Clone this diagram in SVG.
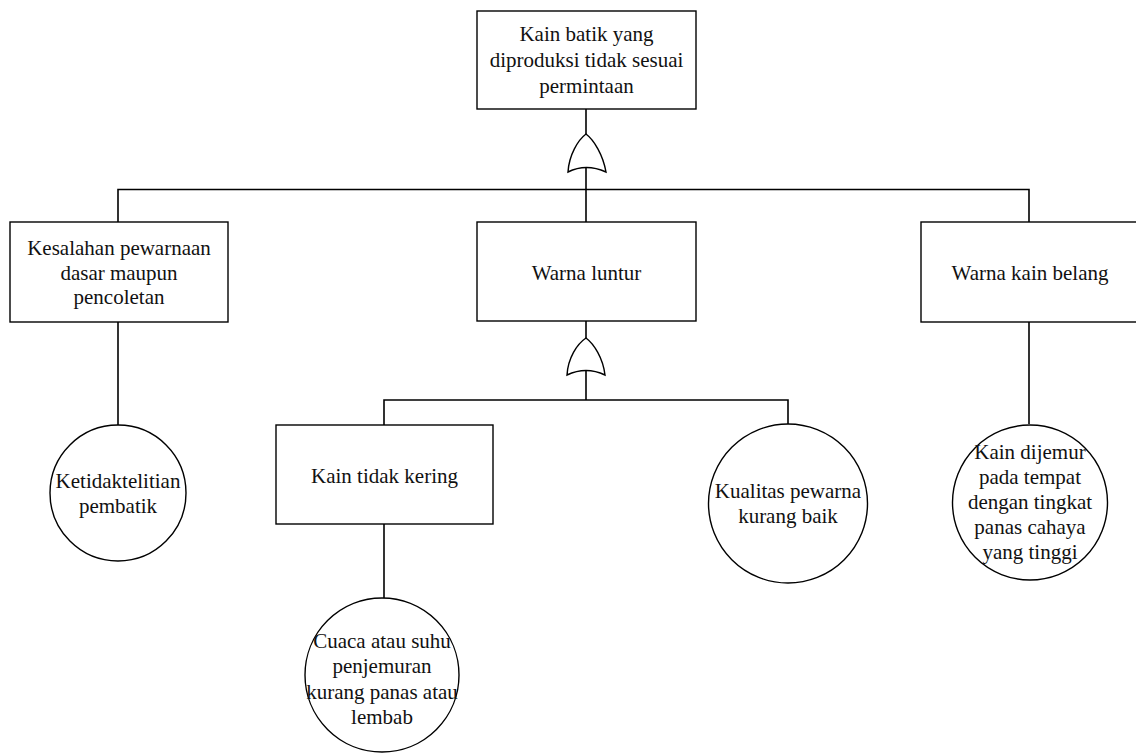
<svg xmlns="http://www.w3.org/2000/svg" width="1136" height="754" viewBox="0 0 1136 754">
<style>
.box{fill:#fff;stroke:#000;stroke-width:1.4}
.gate{fill:#fff;stroke:#000;stroke-width:1.4}
.ln{fill:none;stroke:#000;stroke-width:1.6}
text{font-family:"Liberation Serif","Times New Roman",serif;font-size:21px;fill:#111;text-anchor:middle}
</style>
<rect width="1136" height="754" fill="#fff"/>
<g id="connectors">
<path class="ln" d="M586,109 V134"/>
<path class="ln" d="M586,168 V222"/>
<path class="ln" d="M118,222 V189.5 H1029 V222"/>
<path class="ln" d="M118,322 V425"/>
<path class="ln" d="M1029,322 V424"/>
<path class="ln" d="M586,321 V338"/>
<path class="ln" d="M586,371 V400"/>
<path class="ln" d="M384,425 V400 H788 V424"/>
<path class="ln" d="M384,524 V598"/>
</g>
<g id="gate1"><path class="gate" d="M568,172 C569,155 578,140 586,134 C594,140 603,155 606,172 Q586,163 568,172 Z"/></g>
<g id="gate2"><path class="gate" d="M567,375 C568,358 577,344 586,338 C594,344 603,358 605,375 Q586,366 567,375 Z"/></g>
<g id="top"><rect class="box" x="477" y="11" width="219" height="98"/>
<text x="586.5" y="41">Kain batik yang</text><text x="586.5" y="67">diproduksi tidak sesuai</text><text x="586.5" y="93">permintaan</text></g>
<g id="kesalahan"><rect class="box" x="10" y="222" width="218" height="100"/>
<text x="119" y="255">Kesalahan pewarnaan</text><text x="119" y="280">dasar maupun</text><text x="119" y="304">pencoletan</text></g>
<g id="luntur"><rect class="box" x="477" y="222" width="219" height="99"/>
<text x="586.5" y="280">Warna luntur</text></g>
<g id="belang"><rect class="box" x="921" y="222" width="219" height="100"/>
<text x="1030" y="280">Warna kain belang</text></g>
<g id="kering"><rect class="box" x="276" y="425" width="217" height="99"/>
<text x="384.5" y="483">Kain tidak kering</text></g>
<g id="ketidaktelitian"><circle class="box" cx="118" cy="493" r="68"/>
<text x="118" y="488">Ketidaktelitian</text><text x="118" y="513">pembatik</text></g>
<g id="kualitas"><circle class="box" cx="788" cy="503.5" r="79.5"/>
<text x="788" y="498">Kualitas pewarna</text><text x="788" y="523">kurang baik</text></g>
<g id="dijemur"><circle class="box" cx="1030" cy="502.5" r="77.5"/>
<text x="1030" y="459">Kain dijemur</text><text x="1030" y="484">pada tempat</text><text x="1030" y="509">dengan tingkat</text><text x="1030" y="534">panas cahaya</text><text x="1030" y="559">yang tinggi</text></g>
<g id="cuaca"><circle class="box" cx="382" cy="675" r="77"/>
<text x="382" y="648">Cuaca atau suhu</text><text x="382" y="673">penjemuran</text><text x="382" y="699">kurang panas atau</text><text x="382" y="724">lembab</text></g>
</svg>
